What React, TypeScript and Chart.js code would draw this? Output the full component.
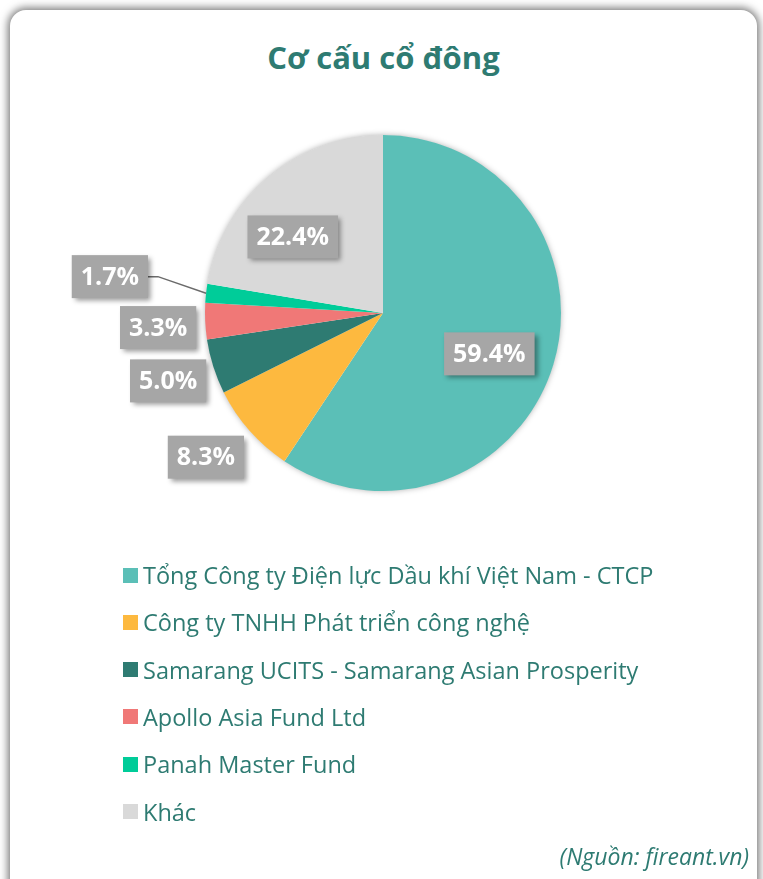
import React, { useEffect, useRef } from "react";
import { Chart, registerables } from "chart.js";

Chart.register(...registerables);

const TITLE = "Cơ cấu cổ đông";
const SOURCE = "(Nguồn: fireant.vn)";
const categories = [
  "Tổng Công ty Điện lực Dầu khí Việt Nam - CTCP",
  "Công ty TNHH Phát triển công nghệ",
  "Samarang UCITS - Samarang Asian Prosperity",
  "Apollo Asia Fund Ltd",
  "Panah Master Fund",
  "Khác",
];
const shares = [59.4, 8.3, 5.0, 3.3, 1.7, 22.4];
const sliceColors = ["#5BBFB7", "#FDB93F", "#2E7B72", "#F07877", "#00CC99", "#D9D9D9"];

const FONT = '"Open Sans", "Noto Sans", sans-serif';
const TEXT_COLOR = "#2E7B72";

// label placement (style): radial factor and angular nudge in degrees
const labelRadius = [0.64, 1.283, 1.266, 1.266, 1.548, 0.663];
const labelAngleShift = [4.2, 2.3, 0, -1.1, 1.2, -9.6];
const labelLeader = [false, false, false, false, true, false];

const pieShadowPlugin = {
  id: "pieShadow",
  beforeDatasetsDraw(chart: any) {
    const arc = chart.getDatasetMeta(0).data[0];
    if (!arc) return;
    const { x, y, outerRadius } = arc.getProps(["x", "y", "outerRadius"], true);
    const ctx = chart.ctx;
    ctx.save();
    ctx.shadowColor = "rgba(0,0,0,0.35)";
    ctx.shadowBlur = 6;
    ctx.fillStyle = "#ffffff";
    ctx.beginPath();
    ctx.arc(x, y, outerRadius - 0.5, 0, Math.PI * 2);
    ctx.fill();
    ctx.restore();
  },
};

const boxLabelPlugin = {
  id: "boxLabels",
  afterDatasetsDraw(chart: any) {
    const ctx = chart.ctx;
    const meta = chart.getDatasetMeta(0);
    const data = chart.data.datasets[0].data as number[];
    ctx.save();
    ctx.font = `bold 25px ${FONT}`;
    meta.data.forEach((el: any, i: number) => {
      const { x, y, startAngle, endAngle, outerRadius } = el.getProps(
        ["x", "y", "startAngle", "endAngle", "outerRadius"],
        true
      );
      const mid = (startAngle + endAngle) / 2;
      const a = mid + (labelAngleShift[i] * Math.PI) / 180;
      const r = outerRadius * labelRadius[i];
      const cx = x + Math.cos(a) * r;
      const cy = y + Math.sin(a) * r;
      const text = data[i].toFixed(1) + "%";
      const tw = ctx.measureText(text).width;
      const bw = tw + 18;
      const bh = 43;
      const bx = cx - bw / 2;
      const by = cy - bh / 2;

      if (labelLeader[i]) {
        const ex = x + Math.cos(mid) * outerRadius;
        const ey = y + Math.sin(mid) * outerRadius;
        ctx.save();
        ctx.strokeStyle = "#6b6b6b";
        ctx.lineWidth = 1.5;
        ctx.beginPath();
        ctx.moveTo(ex, ey);
        ctx.lineTo(bx + bw + 10, cy);
        ctx.lineTo(bx + bw, cy);
        ctx.stroke();
        ctx.restore();
      }

      ctx.save();
      ctx.shadowColor = "rgba(0,0,0,0.4)";
      ctx.shadowBlur = 5;
      ctx.shadowOffsetX = 3;
      ctx.shadowOffsetY = 3;
      ctx.fillStyle = "#A6A6A6";
      ctx.fillRect(bx, by, bw, bh);
      ctx.restore();

      ctx.fillStyle = "#ffffff";
      ctx.textAlign = "center";
      ctx.textBaseline = "middle";
      ctx.fillText(text, cx, cy + 1);
    });
    ctx.restore();
  },
};

export default function App() {
  const canvasRef = useRef<HTMLCanvasElement | null>(null);

  useEffect(() => {
    const canvas = canvasRef.current;
    if (!canvas) return;
    const chart = new Chart(canvas, {
      type: "pie",
      data: {
        labels: categories,
        datasets: [
          {
            data: shares,
            backgroundColor: sliceColors,
            borderWidth: 0,
          },
        ],
      },
      options: {
        animation: false,
        responsive: false,
        maintainAspectRatio: false,
        events: [],
        layout: { padding: { left: 205, right: 202, top: 135, bottom: 388 } },
        plugins: {
          legend: { display: false },
          title: { display: false },
          tooltip: { enabled: false },
        },
      },
      plugins: [pieShadowPlugin, boxLabelPlugin],
    });
    return () => chart.destroy();
  }, []);

  return (
    <div
      style={{
        position: "absolute",
        left: 0,
        top: 0,
        width: 763,
        height: 879,
        overflow: "hidden",
        background: "#ffffff",
        fontFamily: FONT,
      }}
    >
      <div
        style={{
          position: "absolute",
          left: 10,
          top: 10,
          width: 747,
          height: 890,
          borderRadius: 16,
          background: "#ffffff",
          boxShadow: "0 0 9px 2px rgba(0,0,0,0.55)",
        }}
      />
      <div
        style={{
          position: "absolute",
          left: 10,
          width: 747,
          top: 35,
          textAlign: "center",
          fontSize: 31,
          fontWeight: 700,
          color: TEXT_COLOR,
          lineHeight: "44px",
        }}
      >
        {TITLE}
      </div>
      <canvas
        ref={canvasRef}
        width={763}
        height={879}
        style={{ position: "absolute", left: 0, top: 0, width: 763, height: 879 }}
      />
      {categories.map((c, i) => (
        <div
          key={c}
          style={{
            position: "absolute",
            left: 123,
            top: 575 + i * 47.3 - 16,
            height: 32,
            display: "flex",
            alignItems: "center",
            whiteSpace: "nowrap",
          }}
        >
          <span
            style={{
              display: "inline-block",
              width: 15,
              height: 15,
              background: sliceColors[i],
              marginRight: 5,
            }}
          />
          <span style={{ fontSize: 23.5, color: TEXT_COLOR, lineHeight: "32px" }}>{c}</span>
        </div>
      ))}
      <div
        style={{
          position: "absolute",
          right: 763 - 749,
          top: 840,
          fontSize: 23,
          fontStyle: "italic",
          color: TEXT_COLOR,
          lineHeight: "32px",
          whiteSpace: "nowrap",
        }}
      >
        {SOURCE}
      </div>
    </div>
  );
}
